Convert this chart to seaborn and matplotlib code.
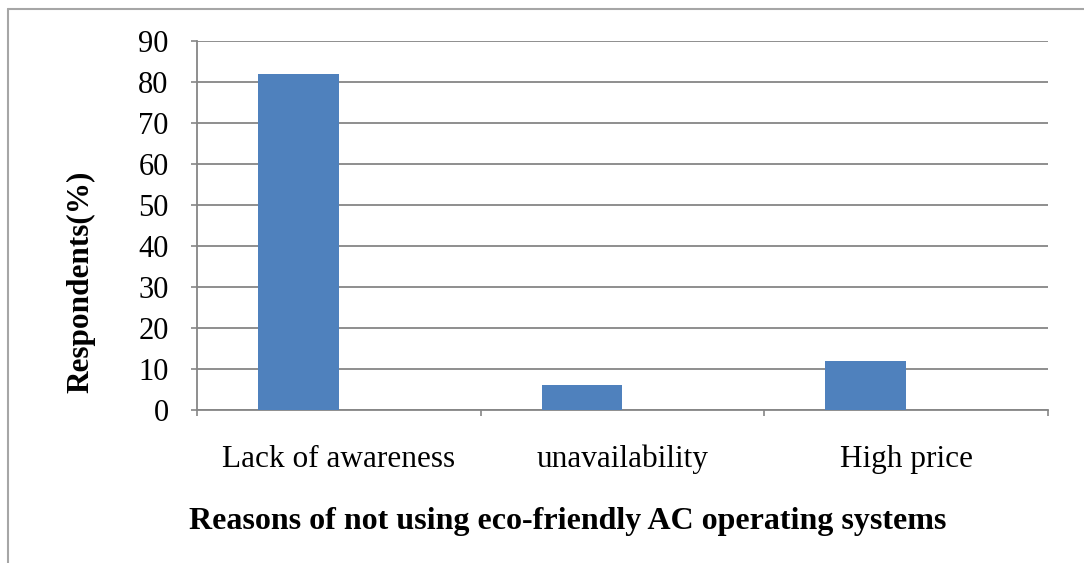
import numpy as np
import pandas as pd
import seaborn as sns
import matplotlib.pyplot as plt
from matplotlib.lines import Line2D

# data
reasons = ["Lack of awareness", "unavailability", "High price"]
respondents = [82, 6, 12]
empty_series = [0, 0, 0]   # Excel chart kept a second (empty) series slot

df = pd.DataFrame({
    "reason": reasons * 2,
    "series": ["Series1"] * 3 + ["Series2"] * 3,
    "value": respondents + empty_series,
})

sns.set_style("white")
plt.rcParams["font.family"] = ["Liberation Serif", "DejaVu Serif"]
plt.rcParams["text.color"] = "black"
plt.rcParams["axes.labelcolor"] = "black"
plt.rcParams["xtick.color"] = "black"
plt.rcParams["ytick.color"] = "black"

fig = plt.figure(figsize=(10.84, 5.63), dpi=100)
ax = fig.add_axes([197 / 1084, 1 - 410 / 563, (1048 - 197) / 1084, (410 - 41) / 563])

grid_col = "#868686"

sns.barplot(data=df, x="reason", y="value", hue="series",
            hue_order=["Series1", "Series2"],
            palette=["#4F81BD", "#C0504D"], saturation=1, width=0.571,
            linewidth=0, legend=False, ax=ax, zorder=3)

ax.set_ylim(0, 90)
ax.set_yticks(np.arange(0, 91, 10))
ax.set_xlim(-0.5, 2.5)
ax.yaxis.grid(True, color=grid_col, linewidth=1.3, zorder=0)
ax.set_axisbelow(True)

# spines
for s in ["top", "right"]:
    ax.spines[s].set_visible(False)
for s in ["left", "bottom"]:
    ax.spines[s].set_color(grid_col)
    ax.spines[s].set_linewidth(1.3)

# tick marks: y outward, x only at category boundaries
ax.tick_params(axis="y", direction="out", length=4.5, width=1.2, color=grid_col,
               labelsize=22, labelcolor="black", pad=16, left=True)
ax.set_xticks([-0.5, 0.5, 1.5, 2.5], minor=True)
ax.tick_params(axis="x", which="minor", direction="out", length=4.5, width=1.2,
               color=grid_col, bottom=True)
ax.tick_params(axis="x", which="major", length=0, labelsize=22.5,
               labelcolor="black", pad=25)

ax.set_xlabel("Reasons of not using eco-friendly AC operating systems",
              fontsize=23, fontweight="bold")
ax.xaxis.set_label_coords(0.436, -0.262)
ax.set_ylabel("Respondents(%)", fontsize=22.5, fontweight="bold")
ax.yaxis.set_label_coords(-0.119, 0.347)

# outer chart frame (left and top edges visible)
frame_col = "#A6A6A6"
fig.add_artist(Line2D([8 / 1084, 8 / 1084], [0, 1 - 9 / 563],
                      transform=fig.transFigure, color=frame_col, linewidth=1.5))
fig.add_artist(Line2D([8 / 1084, 1], [1 - 9 / 563, 1 - 9 / 563],
                      transform=fig.transFigure, color=frame_col, linewidth=1.5))

fig.savefig("out.png", dpi=100)
